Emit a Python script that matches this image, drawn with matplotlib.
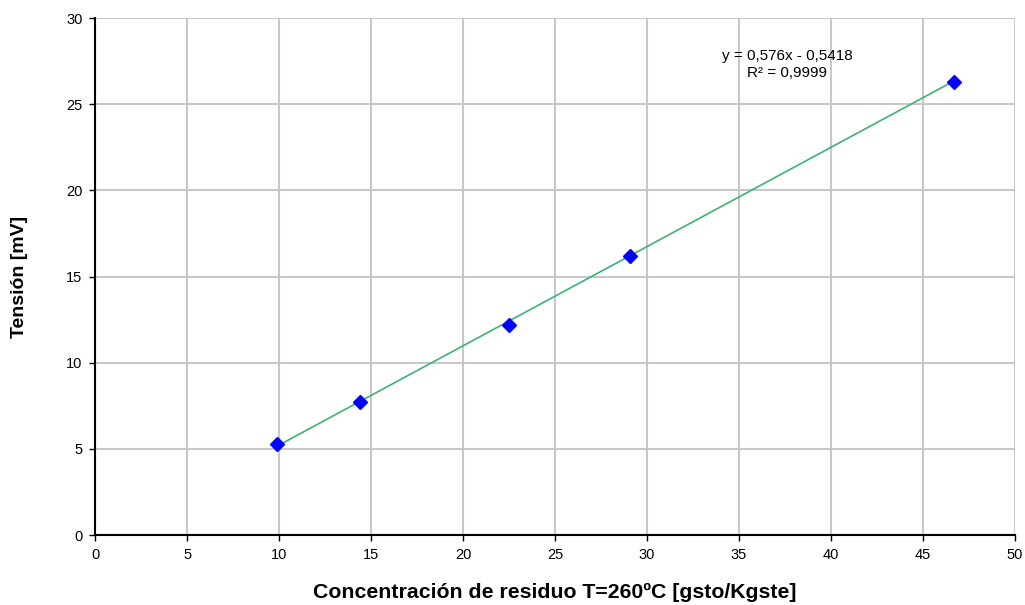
import numpy as np
import matplotlib.pyplot as plt

# datos
concentracion = [9.9, 14.4, 22.5, 29.1, 46.7]
tension = [5.3, 7.7, 12.2, 16.2, 26.3]
pendiente = 0.576
ordenada = -0.5418
x_ticks = [0, 5, 10, 15, 20, 25, 30, 35, 40, 45, 50]
y_ticks = [0, 5, 10, 15, 20, 25, 30]

plt.rcParams['font.family'] = ['Liberation Sans', 'DejaVu Sans']

fig = plt.figure(figsize=(10.25, 6.05), dpi=100)
ax = fig.add_axes([0.0927, 0.1157, 0.8976, 0.8545])

# linea de tendencia
xt = np.array([concentracion[0], concentracion[-1]])
ax.plot(xt, pendiente * xt + ordenada, color='#3cb371', lw=1.2, zorder=2)
ax.plot(concentracion, tension, linestyle='none', marker='D', markersize=7,
        color='#0000ff', zorder=3)

ax.set_xlim(0, 50)
ax.set_ylim(0, 30)
ax.set_xticks(x_ticks)
ax.set_yticks(y_ticks)
ax.grid(True, color='#c8c8c8', lw=1.5)
ax.set_axisbelow(True)
ax.spines['top'].set_visible(False)
ax.spines['right'].set_visible(False)
ax.spines['left'].set_linewidth(1.5)
ax.spines['bottom'].set_linewidth(1.5)
ax.tick_params(direction='out', length=4, width=1, labelsize=10.5, pad=5)

ax.set_xlabel('Concentración de residuo T=260ºC [gsto/Kgste]', fontsize=15.3,
              fontweight='bold')
ax.xaxis.set_label_coords(0.5, -0.093)
ax.set_ylabel('Tensión [mV]', fontsize=14, fontweight='bold')
ax.yaxis.set_label_coords(-0.073, 0.5)

ax.text(37.6, 27.3, 'y = 0,576x - 0,5418\nR² = 0,9999', ha='center',
        va='center', fontsize=11, linespacing=1.3)

fig.savefig('out.png', dpi=100)
